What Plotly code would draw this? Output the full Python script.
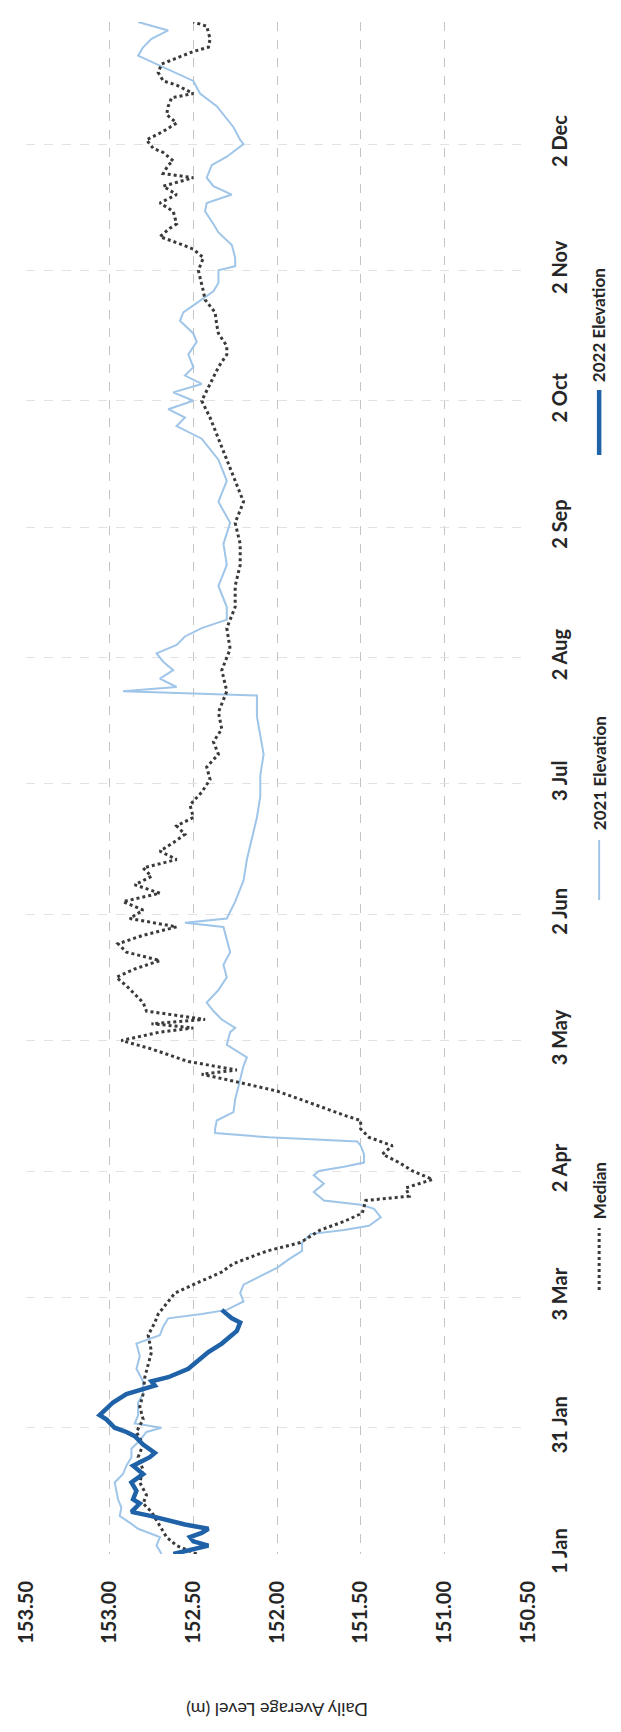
import pandas as pd
import plotly.graph_objects as go

# ---- data: daily average lake level (m), keyed by day of year ----
median_day = [0, 2, 4, 6, 8, 10, 12, 14, 17, 20, 23, 26, 29, 32, 35, 38, 42, 45, 48, 52,
              55, 57, 60, 62, 64, 67, 69, 72, 74, 77, 79, 81, 84, 85, 87, 89, 91, 93, 95, 97,
              99, 101, 103, 104, 108, 110, 112, 114, 115, 117, 120, 122, 124, 125, 126, 127, 129, 131,
              133, 135, 137, 139, 141, 143, 145, 147, 149, 151, 153, 155, 157, 159, 161, 163, 165,
              167, 169, 171, 173, 175, 178, 181, 184, 187, 190, 193, 196, 200, 205, 210, 215, 220,
              225, 230, 235, 240, 245, 250, 255, 260, 265, 270, 274, 278, 282, 285, 287, 290, 292,
              295, 298, 300, 303, 305, 308, 310, 311, 313, 315, 316, 319, 321, 323, 325, 327, 328,
              330, 331, 333, 334, 336, 338, 340, 342, 344, 346, 347, 349, 350, 352, 354, 357, 358,
              360, 363, 364]
median_level = [152.48, 152.60, 152.66, 152.69, 152.72, 152.75, 152.80, 152.78, 152.82, 152.80,
                152.83, 152.80, 152.84, 152.80, 152.82, 152.80, 152.79, 152.77, 152.75, 152.77,
                152.73, 152.71, 152.65, 152.61, 152.50, 152.33, 152.26, 152.06, 151.86, 151.74,
                151.60, 151.49, 151.47, 151.21, 151.23, 151.07, 151.19, 151.27, 151.37, 151.31,
                151.45, 151.50, 151.50, 151.58, 151.86, 152.00, 152.22, 152.45, 152.24, 152.53,
                152.75, 152.93, 152.70, 152.50, 152.75, 152.43, 152.78, 152.80,
                152.85, 152.90, 152.96, 152.85, 152.70, 152.90, 152.95, 152.80, 152.60, 152.88,
                152.80, 152.92, 152.70, 152.85, 152.75, 152.80, 152.60, 152.70, 152.62, 152.55,
                152.60, 152.50, 152.52, 152.45, 152.40, 152.42, 152.35, 152.38, 152.33, 152.35,
                152.30, 152.33, 152.28, 152.30, 152.25, 152.25, 152.22, 152.22, 152.25, 152.20,
                152.25, 152.30, 152.35, 152.40, 152.45, 152.40, 152.35, 152.30, 152.30, 152.35,
                152.36, 152.37, 152.43, 152.44, 152.46, 152.47, 152.44, 152.50, 152.56, 152.70,
                152.64, 152.60, 152.62, 152.70, 152.60, 152.68, 152.50, 152.68, 152.65, 152.62,
                152.68, 152.74, 152.78, 152.68, 152.60, 152.66, 152.65, 152.63, 152.50, 152.60,
                152.68, 152.71, 152.69, 152.50, 152.41, 152.40, 152.42, 152.50, 152.58]

elev2021_day = [0, 2, 4, 6, 8, 9, 11, 13, 15, 17, 19, 21, 23, 25, 27, 29, 30, 31, 33, 36, 38,
                41, 44, 47, 50, 52, 54, 56, 57, 58, 60, 62, 64, 66, 68, 70, 72, 74, 76, 77, 78,
                80, 82, 83, 84, 86, 88, 90, 91, 92, 93, 95, 97, 98, 99, 100, 101, 103, 105, 108,
                111, 113, 116, 118, 121, 124, 125, 127, 129, 131, 134, 137, 140, 143, 146, 149,
                150, 151, 155, 160, 165, 170, 175, 180, 185, 190, 195, 199, 204, 205, 206, 208,
                210, 212, 214, 216, 218, 220, 222, 225, 230, 235, 240, 245, 250, 255, 260, 265,
                268, 270, 272, 274, 276, 278, 280, 282, 285, 288, 290, 293, 295, 297, 300, 302,
                305, 306, 308, 311, 314, 316, 319, 321, 323, 325, 327, 330, 332, 335, 336, 339,
                342, 344, 347, 350, 354, 356, 358, 360, 362, 364]
elev2021_level = [152.69, 152.72, 152.70, 152.83, 152.90, 152.94, 152.93, 152.95, 152.96, 152.97,
                  152.92, 152.90, 152.87, 152.87, 152.82, 152.78, 152.69, 152.85, 152.83, 152.83,
                  152.80, 152.80, 152.84, 152.82, 152.84, 152.70, 152.68, 152.65, 152.45, 152.30,
                  152.20, 152.22, 152.20, 152.10, 152.00, 151.93, 151.85, 151.85, 151.80, 151.60,
                  151.45, 151.38, 151.42, 151.50, 151.72, 151.78, 151.72, 151.78, 151.75, 151.60,
                  151.48, 151.48, 151.50, 151.52, 152.05, 152.37, 152.37, 152.36, 152.26, 152.25,
                  152.23, 152.22, 152.20, 152.18, 152.30, 152.28, 152.25, 152.33, 152.38, 152.42,
                  152.35, 152.30, 152.32, 152.28, 152.30, 152.32, 152.55, 152.30, 152.25, 152.20,
                  152.18, 152.15, 152.12, 152.10, 152.10, 152.08, 152.10, 152.12, 152.12, 152.92,
                  152.60, 152.70, 152.62, 152.68, 152.72, 152.60, 152.55, 152.45, 152.30, 152.30,
                  152.35, 152.30, 152.32, 152.28, 152.35, 152.30, 152.35, 152.45, 152.60, 152.55,
                  152.65, 152.50, 152.62, 152.45, 152.55, 152.50, 152.53, 152.48, 152.50, 152.58,
                  152.56, 152.49, 152.38, 152.35, 152.35, 152.25, 152.25, 152.27, 152.35, 152.38,
                  152.43, 152.42, 152.27, 152.38, 152.42, 152.39, 152.30, 152.20, 152.22, 152.26,
                  152.32, 152.36, 152.46, 152.50, 152.72, 152.83, 152.80, 152.75, 152.65, 152.83]

elev2022_day = [0, 1, 2, 3, 4, 5, 6, 7, 8, 9, 10, 12, 13, 15, 17, 19, 21, 23, 24, 26, 28, 29,
                30, 32, 33, 34, 36, 38, 40, 41, 42, 44, 46, 48, 50, 52, 53, 55, 56, 57, 58]
elev2022_level = [152.62, 152.50, 152.41, 152.50, 152.52, 152.45, 152.41, 152.55, 152.64, 152.75,
                  152.87, 152.82, 152.86, 152.84, 152.87, 152.80, 152.86, 152.76, 152.73, 152.80,
                  152.85, 152.90, 152.97, 153.02, 153.06, 153.03, 152.98, 152.90, 152.73, 152.75,
                  152.65, 152.53, 152.47, 152.41, 152.33, 152.27, 152.24, 152.22, 152.27, 152.30,
                  152.33]

level_ticks = [153.5, 153.0, 152.5, 152.0, 151.5, 151.0, 150.5]
level_labels = ["153.50", "153.00", "152.50", "152.00", "151.50", "151.00", "150.50"]
date_ticks = ["2022-01-01", "2022-01-31", "2022-03-03", "2022-04-02", "2022-05-03", "2022-06-02",
              "2022-07-03", "2022-08-02", "2022-09-02", "2022-10-02", "2022-11-02", "2022-12-02"]
date_labels = ["1 Jan", "31 Jan", "3 Mar", "2 Apr", "3 May", "2 Jun", "3 Jul", "2 Aug",
               "2 Sep", "2 Oct", "2 Nov", "2 Dec"]

BASE = pd.Timestamp("2022-01-01")


def to_dates(days):
    return [BASE + pd.Timedelta(days=d) for d in days]


# ---- layout geometry (pixels) ----
W, H = 621, 1732
ML, MR, MT, MB = 20, 93, 22, 178
PW, PH = W - ML - MR, H - MT - MB


def px(x):
    return (x - ML) / PW


def py(y):
    return (H - MB - y) / PH


FONT = "Lato, 'Open Sans', sans-serif"
TXT = "#262626"
C2021 = "#9fc5e8"
C2022 = "#1f62a8"
CMED = "#3a3a3a"

fig = go.Figure()
# the chart is laid out sideways: level runs across, date runs up the page
fig.add_trace(go.Scatter(x=elev2021_level, y=to_dates(elev2021_day), mode="lines",
                         line=dict(color=C2021, width=2), name="2021 Elevation"))
fig.add_trace(go.Scatter(x=median_level, y=to_dates(median_day), mode="lines",
                         line=dict(color=CMED, width=3, dash="dot"), name="Median"))
fig.add_trace(go.Scatter(x=elev2022_level, y=to_dates(elev2022_day), mode="lines",
                         line=dict(color=C2022, width=4.5), name="2022 Elevation"))

fig.update_layout(
    width=W, height=H,
    margin=dict(l=ML, r=MR, t=MT, b=MB),
    paper_bgcolor="white", plot_bgcolor="white",
    showlegend=False,
    font=dict(family=FONT, color=TXT),
    xaxis=dict(range=[153.5, 150.5], tickmode="array", tickvals=level_ticks,
               ticktext=level_labels, tickangle=-90,
               tickfont=dict(size=20, color=TXT, weight="bold"),
               showgrid=True, gridcolor="#c4c4c4", griddash="dash", gridwidth=1,
               zeroline=False, showline=False, ticks="", ticklabelstandoff=22),
    yaxis=dict(type="date", range=["2022-01-01", "2022-12-31"], side="right",
               tickmode="array", tickvals=date_ticks, ticktext=date_labels,
               tickangle=-90, tickfont=dict(size=20, color=TXT, weight="bold"),
               showgrid=True, gridcolor="#e2e2e2", griddash="dash", gridwidth=1,
               zeroline=False, showline=False, ticks="", ticklabelstandoff=18),
)

# axis title, upside down along the bottom
fig.add_annotation(text="Daily Average Level (m)", xref="paper", yref="paper",
                   x=0.5, y=py(1710), showarrow=False, textangle=180,
                   font=dict(size=18, color=TXT), xanchor="center", yanchor="middle")

# legend drawn as rotated keys down the right-hand side
legend_items = [
    ("Median", CMED, 3, "dot", 1290, 1228, 1191),
    ("2021 Elevation", C2021, 2, "solid", 900, 840, 773),
    ("2022 Elevation", C2022, 4.5, "solid", 455, 390, 325),
]
LEG_X = 600
for label, color, width, dash, y0, y1, ytext in legend_items:
    fig.add_shape(type="line", xref="paper", yref="paper",
                  x0=px(LEG_X), x1=px(LEG_X), y0=py(y0), y1=py(y1),
                  line=dict(color=color, width=width, dash=dash))
    fig.add_annotation(text=label, xref="paper", yref="paper", x=px(LEG_X), y=py(ytext),
                       showarrow=False, textangle=-90,
                       font=dict(size=17, color=TXT, weight="bold"),
                       xanchor="center", yanchor="middle")

fig.write_html("out.html")
